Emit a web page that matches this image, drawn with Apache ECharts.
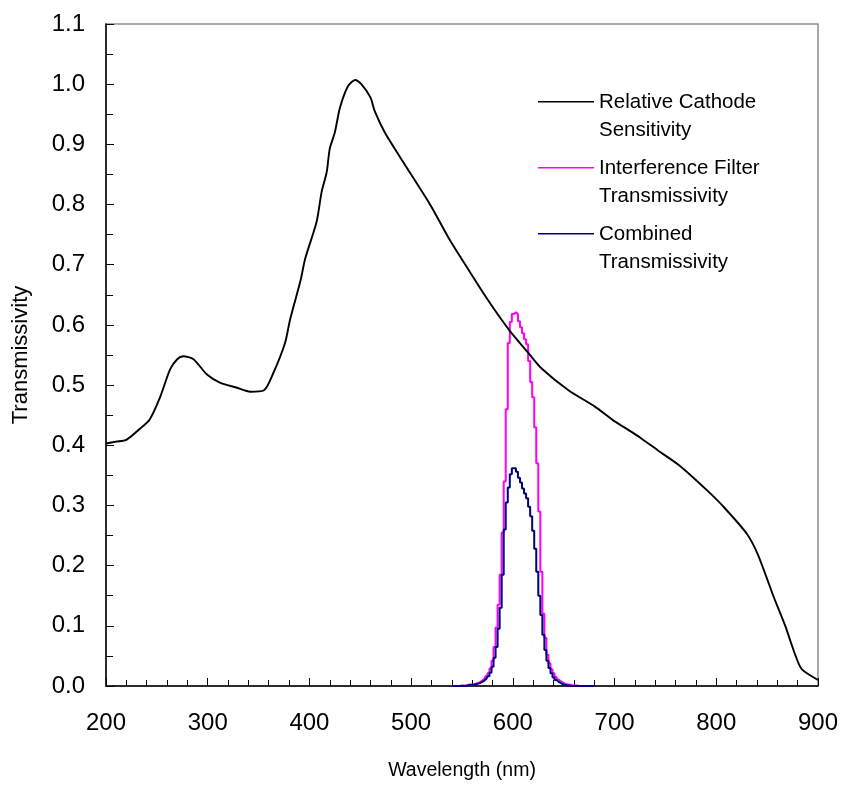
<!DOCTYPE html>
<html>
<head>
<meta charset="utf-8">
<script src="https://cdn.jsdelivr.net/npm/echarts@6/dist/echarts.min.js"></script>
<style>
html,body{margin:0;padding:0;background:#fff;}
#chart{width:843px;height:786px;}
</style>
</head>
<body>
<div id="chart"></div>
<script>
// ---- Data ----
const seriesNames = ['Relative Cathode Sensitivity', 'Interference Filter Transmissivity', 'Combined Transmissivity'];
const legendLabels = ['Relative Cathode\nSensitivity', 'Interference Filter\nTransmissivity', 'Combined\nTransmissivity'];

const cathodeWavelength = [200,210,220,233,243,253,263,270,276,286,299,312,328,342,355,364,376,381,391,396,407,412,417,420,425,430,438,445,451,460,464,474,489,519,537,548,574,597,615,628,655,680,699,715,725,743,764,791,807,830,841,856,868,874,878,884,900];
const cathodeValues = [0.403,0.406,0.409,0.427,0.443,0.479,0.526,0.543,0.548,0.543,0.518,0.504,0.496,0.489,0.491,0.518,0.570,0.609,0.672,0.711,0.771,0.821,0.854,0.893,0.920,0.961,0.997,1.007,1.000,0.978,0.956,0.920,0.879,0.799,0.744,0.714,0.645,0.590,0.554,0.528,0.491,0.465,0.441,0.424,0.413,0.391,0.366,0.325,0.298,0.253,0.218,0.150,0.099,0.069,0.050,0.028,0.010];

const filterWavelength = [540,542,544,546,548,550,552,554,556,558,560,562,564,566,568,570,572,574,576,578,580,582,584,586,588,590,592,594,596,598,600,602,604,606,608,610,612,614,616,618,620,622,624,626,628,630,632,634,636,638,640,642,644,646,648,650,652,654,656,658,660,662,664,666,668,670,672,674,676,678,680];
const filterValues = [0,0,0,0,0,0.001,0.001,0.001,0.002,0.002,0.002,0.003,0.004,0.005,0.007,0.009,0.012,0.016,0.021,0.029,0.042,0.065,0.097,0.135,0.185,0.255,0.340,0.460,0.570,0.605,0.618,0.621,0.618,0.606,0.596,0.586,0.576,0.568,0.540,0.505,0.480,0.430,0.370,0.290,0.190,0.120,0.080,0.052,0.038,0.028,0.021,0.015,0.011,0.008,0.006,0.004,0.003,0.002,0.002,0.001,0.001,0.001,0,0,0,0,0,0,0,0,0];
const combinedValues = [0,0,0,0,0,0,0,0,0.001,0.002,0.002,0.002,0.003,0.004,0.005,0.007,0.009,0.012,0.016,0.022,0.032,0.047,0.065,0.095,0.130,0.185,0.260,0.305,0.330,0.352,0.362,0.362,0.356,0.346,0.338,0.328,0.320,0.312,0.298,0.282,0.258,0.228,0.190,0.150,0.118,0.085,0.060,0.042,0.030,0.021,0.014,0.010,0.007,0.005,0.003,0.002,0.001,0.001,0,0,0,0,0,0,0,0,0,0,0,0,0];

const xTicks = {min: 200, max: 900, interval: 100};
const yTicks = {min: 0, max: 1.1, interval: 0.1};

// ---- Build ----
const pair = (xs, ys) => xs.map((x, i) => [x, ys[i]]);
const FONT = '"Liberation Sans", Arial, sans-serif';
const legendIcon = 'path://M0,0L56,0L56,1.6L0,1.6ZM0,30L0.1,30';

const chart = echarts.init(document.getElementById('chart'), null, {renderer: 'canvas'});
chart.setOption({
  backgroundColor: '#ffffff',
  animation: false,
  textStyle: {fontFamily: FONT},
  grid: {left: 106, right: 25, top: 24, bottom: 96, show: true, borderColor: '#8c8c8c', borderWidth: 1.5, backgroundColor: 'transparent'},
  legend: {
    orient: 'vertical',
    left: 538, top: 88,
    padding: 0,
    itemGap: 10,
    itemWidth: 56, itemHeight: 30,
    icon: legendIcon,
    itemStyle: {borderWidth: 0},
    data: seriesNames,
    formatter: name => legendLabels[seriesNames.indexOf(name)],
    textStyle: {fontSize: 20.5, lineHeight: 28, color: '#000', fontFamily: FONT},
    selectedMode: false
  },
  xAxis: {
    type: 'value', min: xTicks.min, max: xTicks.max, interval: xTicks.interval,
    name: 'Wavelength (nm)', nameLocation: 'middle', nameGap: 75,
    nameTextStyle: {fontSize: 19.5, color: '#000', fontFamily: FONT},
    axisLine: {show: true, lineStyle: {color: '#000', width: 1.5}},
    axisTick: {show: true, inside: true, length: 8, lineStyle: {color: '#000', width: 1}},
    minorTick: {show: true, splitNumber: 5, length: 6, lineStyle: {color: '#000', width: 1}},
    axisLabel: {fontSize: 24, color: '#000', margin: 25, fontFamily: FONT},
    splitLine: {show: false}
  },
  yAxis: {
    type: 'value', min: yTicks.min, max: yTicks.max, interval: yTicks.interval,
    name: 'Transmissivity', nameLocation: 'middle', nameGap: 74, nameRotate: 90,
    nameTextStyle: {fontSize: 22, color: '#000', fontFamily: FONT},
    axisLine: {show: true, lineStyle: {color: '#000', width: 1.5}},
    axisTick: {show: true, inside: true, length: 8, lineStyle: {color: '#000', width: 1}},
    minorTick: {show: true, splitNumber: 2, length: 7, lineStyle: {color: '#000', width: 1}},
    axisLabel: {fontSize: 24, color: '#000', margin: 21, fontFamily: FONT, formatter: v => v.toFixed(1)},
    splitLine: {show: false}
  },
  series: [
    {
      name: seriesNames[0], type: 'line', color: '#000000',
      data: pair(cathodeWavelength, cathodeValues),
      showSymbol: false, smooth: 0.25, lineStyle: {width: 1.9, color: '#000000'}, z: 3
    },
    {
      name: seriesNames[1], type: 'line', color: '#ff00ff',
      data: pair(filterWavelength, filterValues),
      showSymbol: false, step: 'middle', lineStyle: {width: 2, color: '#ff00ff'}, z: 2
    },
    {
      name: seriesNames[2], type: 'line', color: '#000080',
      data: pair(filterWavelength, combinedValues),
      showSymbol: false, step: 'middle', lineStyle: {width: 2, color: '#000080'}, z: 4
    }
  ]
});
</script>
</body>
</html>
